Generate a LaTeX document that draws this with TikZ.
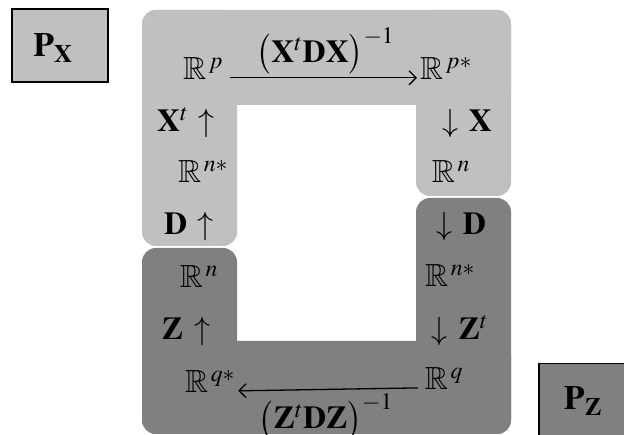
\documentclass[tikz,border=0pt]{standalone}
\usepackage{mathptmx}
\usepackage{amssymb}
\usepackage{graphicx}
\usetikzlibrary{arrows.meta}
\definecolor{lightfill}{HTML}{C0C0C0}
\definecolor{darkfill}{HTML}{808080}
\newcommand{\spc}[1]{\mathbb{R}^{\mkern2mu #1}}
\newcommand{\tallparen}[1]{\vcenter{\hbox{\scalebox{1}[1.04]{$\bigl#1$}}}}
\newcommand{\gram}[1]{\mathopen{\tallparen{(}}#1\mathclose{\tallparen{)}}^{-1}}
\begin{document}
\begin{tikzpicture}[x=1pt,y=-1pt,
  math/.style={font=\fontsize{32}{38}\selectfont, inner sep=3pt, anchor=base},
  biglabel/.style={font=\fontsize{32}{38}\selectfont, inner sep=0pt},
  panel/.style={rounded corners=14pt},
  maparrow/.style={line width=1.3pt, -{Straight Barb[length=7pt,width=14pt]}},
  projbox/.style={draw=black, line width=1.5pt, inner sep=0pt},
  projtext/.style={font=\fontsize{34}{40}\selectfont, inner sep=0pt, anchor=base}]

\useasboundingbox (0,0) rectangle (624,435);
\clip (0,0) rectangle (624,435);

% light panel: top bar with two columns
\fill[lightfill, panel] (142,10) rectangle (511,105);
\fill[lightfill, panel] (142,10) rectangle (237,246);
\fill[lightfill, panel] (416,10) rectangle (511,196);

% dark panel: bottom bar with two columns
\fill[darkfill, panel] (142,341) rectangle (511,434);
\fill[darkfill, panel] (142,248) rectangle (237,434);
\fill[darkfill, panel] (416,198) rectangle (511,434);

% projector boxes
\node[projbox, fill=lightfill, minimum width=96pt, minimum height=73pt] (PXbox) at (60,45.5) {};
\node[projtext] (PX) at (53,57) {$\mathbf{P}_{\mathbf{X}}$};
\node[projbox, fill=darkfill, minimum width=88pt, minimum height=76pt] (PZbox) at (583,401.5) {};
\node[projtext] (PZ) at (583,410) {$\mathbf{P}_{\mathbf{Z}}$};

% spaces
\node[math] (Rp)  at (203,80)  {$\spc{p}$};
\node[math] (Rps) at (446,80)  {$\spc{p*}$};
\node[math] (Rns1) at (203,183) {$\spc{n*}$};
\node[math] (Rn1)  at (451,183) {$\spc{n}$};
\node[math] (Rn2)  at (199,288) {$\spc{n}$};
\node[math] (Rns2) at (450,287) {$\spc{n*}$};
\node[math] (Rqs) at (210,393) {$\spc{q*}$};
\node[math] (Rq)  at (444,390) {$\spc{q}$};

% vertical maps
\node[math] (Xt) at (186,132) {$\mathbf{X}^{t}\,\uparrow$};
\node[math] (Xd) at (467,132) {$\downarrow\,\mathbf{X}$};
\node[math] (Du) at (189,235) {$\mathbf{D}\,\uparrow$};
\node[math] (Dd) at (461,235) {$\downarrow\,\mathbf{D}$};
\node[math] (Zu) at (186,340) {$\mathbf{Z}\,\uparrow$};
\node[math] (Zt) at (460,340) {$\downarrow\,\mathbf{Z}^{t}$};

% horizontal maps
\draw[maparrow, shorten <=4pt] (Rp.mid east) -- (Rps.mid west)
  node[biglabel, midway, above=3pt, xshift=4pt] (Lx) {$\gram{\mathbf{X}^{t}\mathbf{D}\mathbf{X}}$};
\draw[maparrow, shorten <=4pt] (Rq.mid west) -- (Rqs.mid east)
  node[biglabel, midway, below=4pt, xshift=-4pt] (Lz) {$\gram{\mathbf{Z}^{t}\mathbf{D}\mathbf{Z}}$};
\end{tikzpicture}
\end{document}
